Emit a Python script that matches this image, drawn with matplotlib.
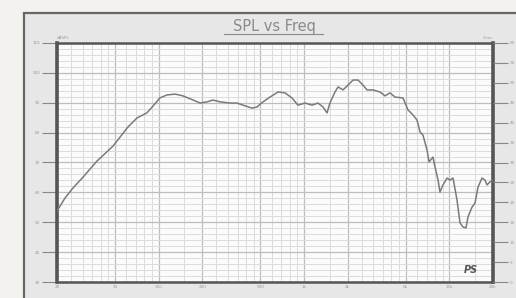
import matplotlib
matplotlib.use('Agg')
import matplotlib.pyplot as plt
from matplotlib.patches import Rectangle
from matplotlib.lines import Line2D
from matplotlib.ticker import FixedLocator, NullFormatter
import numpy as np

# SPL response
freq = [20, 22.7, 25.8, 30.2, 37.7, 48.6, 61.6, 71, 83, 91.6, 102, 114, 130, 147, 173,
        193, 215, 237, 265, 310, 347, 381, 440, 476, 523, 584, 664, 741, 828, 910,
        1016, 1138, 1250, 1352, 1442, 1510, 1636, 1718, 1858, 2010, 2178, 2356, 2552,
        2716, 2986, 3342, 3614, 3910, 4236, 4808, 5200, 5636, 6000, 6296, 6592, 7032,
        7262, 7728, 7980, 8376, 8630, 9058, 9662, 10116, 10620, 11300, 11860, 12440,
        13040, 13460, 14360, 15040, 15780, 16800, 17620, 18200, 19060, 20000]
spl = [53.8, 58.1, 61.5, 65.1, 70.5, 75.5, 81.9, 84.9, 86.6, 88.9, 91.6, 92.6, 92.9,
       92.3, 90.9, 89.9, 90.3, 90.9, 90.3, 89.9, 89.9, 89.2, 88.2, 88.6, 90.3, 91.9,
       93.6, 93.3, 91.6, 89.2, 89.9, 89.2, 89.9, 88.6, 86.6, 89.9, 93.6, 95.3, 94.3,
       95.9, 97.6, 97.6, 95.9, 94.3, 94.3, 93.6, 92.3, 93.3, 91.9, 91.6, 87.6, 85.9,
       84.2, 80.2, 79.2, 74.2, 70.2, 71.8, 68.5, 64.1, 60.1, 62.5, 64.8, 64.1, 64.8,
       57.5, 49.8, 48.4, 48.1, 51.8, 55.1, 56.4, 61.8, 64.8, 64.1, 62.5, 63.5, 64.1]

db_ticks = [30, 40, 50, 60, 70, 80, 90, 100, 110]
ohm_ticks = [0, 5, 10, 15, 20, 25, 30, 35, 40, 45, 50, 55, 60]
f_ticks = [20, 50, 100, 200, 500, 1000, 2000, 5000, 10000, 20000]
f_labels = ['20', '50', '100', '200', '500', '1k', '2k', '5k', '10k', '20k']

W, H = 516, 298
fig = plt.figure(figsize=(W / 100, H / 100), dpi=100)
fig.patch.set_facecolor('#f3f2ee')

# grey panel behind the chart
fig.add_artist(Rectangle((24 / W, -0.1), 1.0, 1.1 - 13 / H, transform=fig.transFigure,
                         facecolor='#e7e7e7', edgecolor='#666666', linewidth=1.6,
                         zorder=-5))

ax = fig.add_axes([57 / W, 16 / H, 436 / W, 239 / H])
ax.set_facecolor('#fbfbfb')
ax.semilogx(freq, spl, color='#7a7a7a', linewidth=1.1, zorder=5)
ax.set_xlim(20, 20000)
ax.set_ylim(db_ticks[0], db_ticks[-1])

# grid
ax.set_yticks(db_ticks)
ax.yaxis.set_minor_locator(FixedLocator(np.arange(30, 110, 2)))
minor_f = [m * d for d in (10, 100, 1000, 10000) for m in (1, 1.5, 2, 2.5, 3, 3.5, 4, 4.5, 5, 6, 7, 8, 9)]
ax.xaxis.set_minor_locator(FixedLocator([f for f in minor_f if 20 <= f <= 20000]))
ax.xaxis.set_minor_formatter(NullFormatter())
ax.set_xticks(f_ticks)
ax.set_xticklabels(f_labels)
ax.grid(which='major', color='#bdbdbd', linewidth=0.9)
ax.grid(which='minor', color='#dcdcdc', linewidth=0.7)

ax.tick_params(which='both', length=0)
ax.tick_params(axis='y', which='major', length=11, width=0.8, color='#888888',
               labelsize=3, labelcolor='#999999', pad=1)
ax.tick_params(axis='x', which='major', labelsize=3, labelcolor='#999999', pad=2)

for side, lw in (('left', 2.6), ('right', 2.6), ('top', 1.8), ('bottom', 1.8)):
    ax.spines[side].set_color('#555555')
    ax.spines[side].set_linewidth(lw)

ax2 = ax.twinx()
ax2.set_ylim(ohm_ticks[0], ohm_ticks[-1])
ax2.set_yticks(ohm_ticks)
ax2.tick_params(axis='y', length=11, width=0.8, color='#888888',
                labelsize=3, labelcolor='#999999', pad=1)
for s in ax2.spines.values():
    s.set_visible(False)

ax.text(0.0, 1.012, 'dBSPL', transform=ax.transAxes, fontsize=3, color='#999999',
        ha='left', va='bottom')
ax.text(1.0, 1.012, 'Ohm', transform=ax.transAxes, fontsize=3, color='#999999',
        ha='right', va='bottom')
ax.text(0.965, 0.03, 'PS', transform=ax.transAxes, fontsize=7, color='#555555',
        ha='right', va='bottom', fontstyle='italic', fontweight='bold')

# title with underline
fig.text(274 / W, 1 - 27 / H, 'SPL vs Freq', fontsize=10.5, color='#8a8a8a',
         ha='center', va='center')
fig.add_artist(Line2D([224 / W, 323 / W], [1 - 34 / H, 1 - 34 / H],
                      transform=fig.transFigure, color='#8a8a8a', linewidth=0.8))

fig.savefig('out.png', dpi=100, facecolor=fig.get_facecolor())
